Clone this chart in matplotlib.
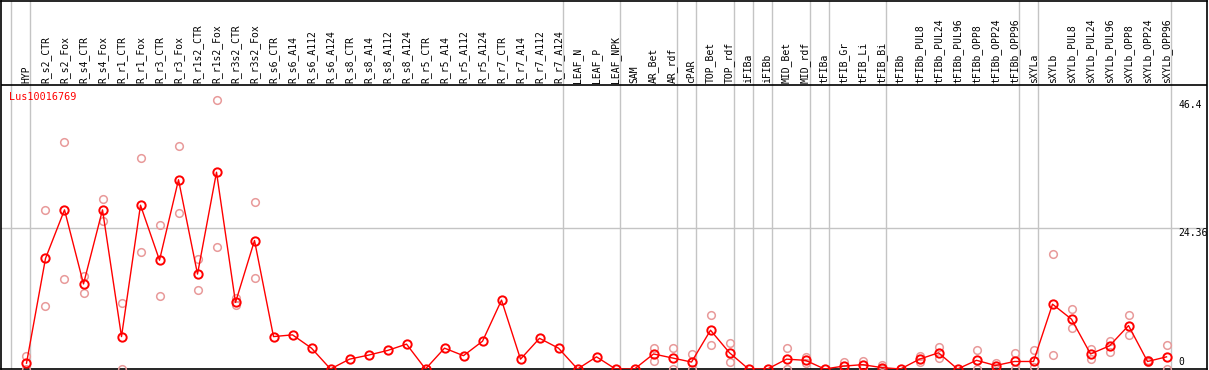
import numpy as np
import matplotlib
matplotlib.use('Agg')
import matplotlib.pyplot as plt

gene = 'Lus10016769'

samples = ['HYP', 'R_s2_CTR', 'R_s2_Fox', 'R_s4_CTR', 'R_s4_Fox', 'R_r1_CTR', 'R_r1_Fox',
           'R_r3_CTR', 'R_r3_Fox', 'R_r1s2_CTR', 'R_r1s2_Fox', 'R_r3s2_CTR', 'R_r3s2_Fox',
           'R_s6_CTR', 'R_s6_A14', 'R_s6_A112', 'R_s6_A124', 'R_s8_CTR', 'R_s8_A14',
           'R_s8_A112', 'R_s8_A124', 'R_r5_CTR', 'R_r5_A14', 'R_r5_A112', 'R_r5_A124',
           'R_r7_CTR', 'R_r7_A14', 'R_r7_A112', 'R_r7_A124', 'LEAF_N', 'LEAF_P', 'LEAF_NPK',
           'SAM', 'AR_Bet', 'AR_rdf', 'cPAR', 'TOP_Bet', 'TOP_rdf', 'iFIBa', 'iFIBb',
           'MID_Bet', 'MID_rdf', 'tFIBa', 'tFIB_Gr', 'tFIB_Li', 'tFIB_Bi', 'tFIBb',
           'tFIBb_PUL8', 'tFIBb_PUL24', 'tFIBb_PUL96', 'tFIBb_OPP8', 'tFIBb_OPP24',
           'tFIBb_OPP96', 'sXYLa', 'sXYLb', 'sXYLb_PUL8', 'sXYLb_PUL24', 'sXYLb_PUL96',
           'sXYLb_OPP8', 'sXYLb_OPP24', 'sXYLb_OPP96']

# mean expression per sample
mean_expr = [1.0, 19.1, 27.5, 14.7, 27.5, 5.6, 28.3,
             18.8, 32.7, 16.4, 34.0, 11.5, 22.2,
             5.6, 5.9, 3.6, 0.0, 1.7, 2.4,
             3.2, 4.3, 0.0, 3.6, 2.3, 4.8,
             11.9, 1.7, 5.3, 3.6, 0.0, 2.1, 0.0,
             0.0, 2.6, 1.9, 1.2, 6.7, 2.8, 0.0, 0.0,
             1.7, 1.5, 0.0, 0.5, 0.75, 0.25, 0.0,
             1.7, 2.8, 0.0, 1.5, 0.6,
             1.3, 1.3, 11.2, 8.6, 2.6, 4.0,
             7.5, 1.3, 2.1]

# replicate values (nan = no replicate shown)
nan = np.nan
rep_a = [2.2, 27.5, 39.2, 16.1, 29.4, 11.4, 36.4,
         24.8, 38.5, 19.0, 46.4, 12.2, 28.8,
         nan, nan, nan, nan, nan, nan,
         nan, nan, nan, nan, nan, nan,
         nan, nan, nan, nan, nan, nan, nan,
         nan, 3.7, 3.7, 2.6, 9.3, 4.5, nan, nan,
         3.6, 2.0, nan, 1.15, 1.3, 0.75, nan,
         2.2, 3.8, nan, 3.2, 1.1,
         2.8, 3.2, 19.8, 10.3, 3.5, 4.8,
         9.3, 1.5, 4.1]
rep_b = [0.0, 10.8, 15.5, 13.1, 25.5, 0.0, 20.2,
         12.6, 26.9, 13.6, 21.1, 11.0, 15.7,
         nan, nan, nan, nan, nan, nan,
         nan, nan, nan, nan, nan, nan,
         nan, nan, nan, nan, nan, nan, nan,
         nan, 1.4, 0.0, 0.0, 4.15, 1.2, nan, nan,
         0.0, 1.1, nan, 0.0, 0.17, 0.0, nan,
         1.15, 1.96, nan, 0.0, 0.1,
         0.0, 0.4, 2.5, 7.0, 1.7, 2.9,
         5.9, 1.15, 0.0]

# group separators (after these sample indices)
group_ends = [-1, 0, 28, 31, 34, 35, 37, 38, 39, 41, 42, 45, 52, 53, 60]

y_ticks = [46.4, 24.36]

x = np.arange(len(samples))
mono = 'DejaVu Sans Mono'

fig = plt.figure(figsize=(12.09, 3.70), dpi=100)
ax = fig.add_axes([1 / 1209, 1 / 370, 1206 / 1209, 368 / 370])
ax.set_xlim(-1.342, 62.13)
ax.set_ylim(0, 63.58)
ax.set_xticks([])
ax.set_yticks([])
for s in ax.spines.values():
    s.set_color('black')
    s.set_linewidth(1.2)

header_y = 49.07
for g in group_ends:
    ax.axvline(g + 0.21, color='#c4c4c4', lw=1, zorder=1)
ax.axhline(24.36, color='#c4c4c4', lw=1, zorder=1)
ax.axhline(header_y, color='black', lw=1.2, zorder=2)

for i, name in enumerate(samples):
    ax.text(i, header_y + 0.35, name, rotation=90, ha='center', va='bottom',
            fontsize=7, family=mono)

ax.plot(x, rep_a, 'o', ms=5.5, mfc='none', mec='#e89a9a', mew=1.1, zorder=3)
ax.plot(x, rep_b, 'o', ms=5.5, mfc='none', mec='#e89a9a', mew=1.1, zorder=3)
ax.plot(x, mean_expr, '-o', color='red', lw=1, ms=6, mfc='none', mec='red', mew=1.4, zorder=4)

ax.text(-0.905, 47.0, gene, color='red', fontsize=7.3, family=mono, ha='left', va='center')

for v in y_ticks:
    ax.text(60.62, v, str(v), fontsize=7, family=mono, ha='left', va='top')
ax.text(60.62, 0.4, '0', fontsize=7, family=mono, ha='left', va='bottom')

fig.savefig('out.png', dpi=100)
